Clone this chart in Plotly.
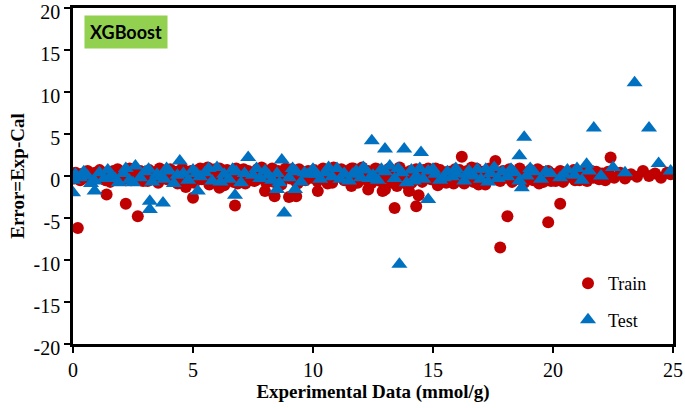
import plotly.graph_objects as go

# ---- Train (red circles) ----
train_x = [
    0.05, 0.15, 0.3, 0.42, 0.55, 0.68, 0.8, 0.92,
    1.05, 1.18, 1.3, 1.42, 1.55, 1.68, 1.8, 1.92,
    2.05, 2.18, 2.3, 2.42, 2.55, 2.68, 2.8, 2.92,
    3.05, 3.18, 3.3, 3.42, 3.55, 3.68, 3.8, 3.92,
    4.05, 4.18, 4.3, 4.42, 4.55, 4.68, 4.8, 4.92,
    5.05, 5.18, 5.3, 5.42, 5.55, 5.68, 5.8, 5.92,
    6.05, 6.18, 6.3, 6.42, 6.55, 6.68, 6.8, 6.92,
    7.05, 7.18, 7.3, 7.42, 7.55, 7.68, 7.8, 7.92,
    8.05, 8.18, 8.3, 8.42, 8.55, 8.68, 8.8, 8.92,
    9.05, 9.18, 9.3, 9.42, 9.55, 9.68, 9.8, 9.92,
    10.05, 10.18, 10.3, 10.42, 10.55, 10.68, 10.8, 10.92,
    11.05, 11.18, 11.3, 11.42, 11.55, 11.68, 11.8, 11.92,
    12.05, 12.18, 12.3, 12.42, 12.55, 12.68, 12.8, 12.92,
    13.05, 13.18, 13.3, 13.42, 13.55, 13.68, 13.8, 13.92,
    14.05, 14.18, 14.3, 14.42, 14.55, 14.68, 14.8, 14.92,
    15.05, 15.18, 15.3, 15.42, 15.55, 15.68, 15.8, 15.92,
    16.05, 16.18, 16.3, 16.42, 16.55, 16.68, 16.8, 16.92,
    17.05, 17.18, 17.3, 17.42, 17.55, 17.68, 17.8, 17.92,
    18.05, 18.18, 18.3, 18.42, 18.55, 18.68, 18.8, 18.92,
    19.05, 19.18, 19.3, 19.42, 19.55, 19.68, 19.8, 19.92,
    20.05, 20.18, 20.3, 20.42, 20.55, 20.68, 20.8, 20.92,
    21.05, 21.18, 21.3, 21.42, 21.55, 21.68, 21.8, 21.92,
    22.05, 22.18, 22.3, 22.55, 22.8,
    23.0, 23.25, 23.5, 23.75,
    24.0, 24.25, 24.5, 24.75, 24.9,
    # second pass through the band
    0.11, 0.36, 0.61, 0.86, 1.11, 1.36, 1.61, 1.86,
    2.11, 2.36, 2.61, 2.86, 3.11, 3.36, 3.61, 3.86,
    4.11, 4.36, 4.61, 4.86, 5.11, 5.36, 5.61, 5.86,
    6.11, 6.36, 6.61, 6.86, 7.11, 7.36, 7.61, 7.86,
    8.11, 8.36, 8.61, 8.86, 9.11, 9.36, 9.61, 9.86,
    10.11, 10.36, 10.61, 10.86, 11.11, 11.36, 11.61, 11.86,
    12.11, 12.36, 12.61, 12.86, 13.11, 13.36, 13.61, 13.86,
    14.11, 14.36, 14.61, 14.86, 15.11, 15.36, 15.61, 15.86,
    16.11, 16.36, 16.61, 16.86, 17.11, 17.36, 17.61, 17.86,
    18.11, 18.36, 18.61, 18.86, 19.11, 19.36, 19.61, 19.86,
    20.11, 20.36, 20.61, 20.86, 21.11, 21.36, 21.61, 21.86,
    # outliers
    0.2, 1.4, 2.2, 2.7, 4.7, 5.0, 6.1, 6.75, 8.0, 8.4, 9.0, 9.3, 10.2,
    12.3, 12.9, 13.0, 13.5, 13.4, 14.0, 14.4, 14.3, 16.2, 17.6, 17.8,
    18.1, 19.8, 20.3, 22.4, 16.9, 11.6, 15.2,
]
train_y = [
    -0.3, 0.2, -0.5, 0.3, -0.2, 0.1, -0.6, 0.4,
    -0.1, 0.5, -0.4, 0.2, -0.7, 0.6, 0.0, -0.3,
    0.5, -0.2, 0.7, -0.5, 0.3, -0.1, 0.6, -0.6,
    0.2, 0.7, -0.3, 0.4, -0.8, 0.1, 0.6, -0.4,
    0.8, 0.0, 0.5, -0.6, 0.9, 0.2, -0.3, 0.6,
    -0.8, 0.4, 0.9, -0.2, 0.6, -1.0, 0.3, 0.8,
    -0.5, 0.5, -1.1, 0.7, 0.1, -0.7, 0.9, -0.3,
    0.4, -0.9, 0.6, 0.0, -0.6, 0.8, -0.2, 0.5,
    -0.8, 0.3, 0.9, -0.4, 0.6, -1.0, 0.2, 0.7,
    -0.3, 0.5, -0.7, 0.8, 0.1, -0.5, 0.6, -0.2,
    0.7, -0.6, 0.3, 0.9, -0.3, 0.5, -0.8, 0.4,
    0.0, 0.8, -0.5, 0.6, -0.1, 0.9, -0.7, 0.3,
    1.0, -0.4, 0.6, -0.9, 0.2, 0.8, -0.6, 0.5,
    -0.2, 0.9, -0.8, 0.3, 0.7, -0.5, 0.4, -1.0,
    0.6, -0.3, 0.8, 0.0, -0.7, 0.5, 0.9, -0.4,
    0.3, -0.6, 0.7, 0.1, -0.8, 0.5, -0.2, 0.8,
    -0.5, 0.4, -0.9, 0.6, 0.0, -0.7, 0.9, -0.3,
    0.5, -1.0, 0.2, 0.7, -0.4, 0.3, -0.6, 0.6,
    -0.2, 0.8, -0.7, 0.4, -0.3, 0.6, -0.8, 0.1,
    0.7, -0.5, 0.3, -0.9, 0.5, -0.2, 0.6, -0.6,
    0.2, -0.4, 0.6, -0.7, 0.3, -0.1, 0.5, -0.5,
    0.4, -0.3, 0.6, -0.6, 0.2, -0.2, 0.5, -0.4,
    0.3, -0.5, 0.5, -0.2, 0.4,
    -0.3, 0.2, -0.1, 0.6,
    0.0, 0.3, -0.2, 0.4, 0.2,
    # second pass through the band
    0.4, -0.1, 0.6, -0.4, 0.7, -0.5, 0.3, 0.8,
    -0.4, 0.9, 0.0, 0.5, -0.6, 0.3, 0.9, -0.2,
    0.4, -0.9, 0.7, 0.0, 0.6, -0.4, 1.0, -0.7,
    0.9, -0.2, 0.4, -0.9, 0.8, 0.2, -0.5, 1.0,
    0.5, -0.7, 0.1, 0.9, 0.8, -0.9, 0.4, 0.2,
    -0.2, 0.6, -0.9, 1.0, 0.5, -0.3, 0.9, -0.8,
    0.3, -0.7, 0.9, 0.0, 0.5, -0.6, 1.0, 0.1,
    -0.8, 0.3, 0.7, -0.1, 0.9, -0.3, 0.5, -0.9,
    0.7, -0.2, 1.0, -0.6, -0.7, 0.9, -0.1, 0.4,
    0.5, -0.5, 0.9, -0.3, 0.2, 0.8, -0.7, 0.4,
    -0.6, 0.5, 0.0, 0.7, -0.5, 0.3, 0.6, -0.2,
    # outliers
    -6.2, -2.2, -3.3, -4.8, -1.3, -2.6, -1.4, -3.5, -1.8, -2.4, -2.5, -2.4, -1.8,
    -1.6, -1.8, -1.6, -1.2, -3.8, -1.8, -2.3, -3.6, 2.3, 1.8, -8.5,
    -4.8, -5.5, -3.3, 2.2, -1.0, -1.2, -1.1,
]

# ---- Test (blue triangles) ----
test_x = [
    0.0, 0.1, 0.3, 0.6, 0.9, 1.1, 1.3, 1.6, 1.9, 2.1, 2.35, 2.6, 2.8, 3.0,
    3.3, 3.5, 3.8, 4.0, 4.2, 4.45, 4.6, 4.8, 5.0, 5.3, 5.5, 5.8, 6.0, 6.3,
    6.5, 6.8, 7.0, 7.3, 7.5, 7.8, 8.0, 8.3, 8.5, 8.7, 9.0, 9.3, 9.5, 9.8,
    10.0, 10.3, 10.5, 10.8, 11.0, 11.3, 11.5, 11.8, 12.0, 12.2, 12.5, 12.7,
    13.0, 13.2, 13.4, 13.7, 13.9, 14.1, 14.3, 14.6, 14.8, 15.1, 15.3, 15.6,
    15.8, 16.0, 16.3, 16.5, 16.7, 17.0, 17.2, 17.4, 17.7, 17.9, 18.1, 18.4,
    18.9, 19.2, 19.5, 19.9, 20.3, 20.6, 20.9, 21.2, 21.5, 22.0, 23.0,
    0.45, 0.75, 1.45, 1.75, 2.2, 2.5, 3.15, 3.65, 3.9, 4.35, 5.15, 5.65,
    6.15, 6.65, 7.15, 7.65, 8.15, 8.6, 9.15, 9.65, 10.15, 10.65, 11.15,
    11.65, 12.1, 12.35, 12.85, 13.55, 14.2, 14.45, 15.0, 15.45, 15.95,
    16.4, 16.85, 17.3, 17.55, 18.25, 18.6, 19.05, 19.7, 20.45, 21.0,
    # outliers
    0.0, 0.9, 3.2, 3.2, 3.75, 5.2, 6.75, 8.8, 8.5, 9.25, 12.45, 13.0, 13.8,
    14.5, 14.8, 13.6, 18.6, 18.8, 18.7, 21.7, 23.4, 24.0, 24.4, 24.9, 22.5,
    21.4,
]
test_y = [
    -0.5, 0.2, -0.2, 0.0, -0.6, 0.4, -0.3, 0.1, -0.8, 0.3, -0.5, 1.2, -0.2, 0.5,
    -0.7, 0.2, -0.4, 0.6, -0.9, 1.8, 0.3, -0.5, 0.7, -0.1, 0.4, -0.6, 1.0, 0.2,
    -0.4, 0.5, -0.8, 2.2, 0.1, -0.3, 0.6, -0.5, 0.3, 1.9, -0.2, 0.5, -0.7, 0.2,
    0.8, -0.4, 0.4, -0.1, 0.9, 0.3, -0.6, 0.6, -0.2, 0.7, 0.1, -0.5,
    0.5, 1.2, -0.3, 0.4, -0.8, 0.7, 0.0, -0.4, 0.6, 0.2, -0.5, 0.5,
    -0.1, 0.3, -0.6, 0.6, 0.0, -0.4, 0.8, 0.3, -0.3, 0.5, -0.1, 0.4,
    0.0, 0.5, -0.4, 0.3, -0.2, 0.7, 0.1, -0.5, 0.6, 0.0, 0.4,
    0.5, -0.9, 0.7, -0.3, 0.9, -0.8, 0.8, -0.1, 0.9, 0.1, 0.3, 0.9,
    -0.7, 0.8, 0.3, 0.9, 0.1, -0.8, 0.9, 0.4, 0.2, 1.0, -0.4,
    0.2, 1.0, -0.3, 0.8, 0.9, -0.6, 0.9, 0.8, -0.2, 0.9,
    0.2, 0.8, -0.7, 1.0, 0.8, -0.6, 0.9, 0.5, 0.2, 0.9,
    # outliers
    -2.0, -1.8, -4.0, -3.0, -3.2, -1.8, -2.3, -4.4, -1.6, -1.6, 4.2, 3.2, 3.2,
    2.8, -2.8, -10.5, 2.4, 4.6, -1.4, 5.7, 11.1, 5.7, 1.5, 0.6, 1.0,
    1.4,
]

x_ticks = [0, 5, 10, 15, 20, 25]
x_labels = ["0", "5", "10", "15", "20", "25"]
y_ticks = [-20, -15, -10, -5, 0, 5, 10, 15, 20]
y_labels = ["-20", "-15", "-10", "-5", "0", "5", "10", "15", "20"]

serif = "Liberation Serif"

fig = go.Figure()
fig.add_trace(go.Scatter(
    x=train_x, y=train_y, mode="markers", name="Train", legendgroup="a",
    marker=dict(symbol="circle", size=12, color="#C00000"),
))
fig.add_trace(go.Scatter(
    x=test_x, y=test_y, mode="markers", name="Test", legendgroup="b",
    marker=dict(symbol="triangle-up", size=14, color="#0070C0"),
))


def axis_style():
    return dict(
        showgrid=False, zeroline=False, showline=True, linecolor="black",
        linewidth=2.5, mirror=True, ticks="outside", ticklen=6, tickwidth=2,
        tickcolor="black", automargin=False, ticklabeloverflow="allow",
        tickfont=dict(family=serif, size=20, color="black"),
    )


fig.update_layout(
    width=685, height=408,
    margin=dict(l=73, r=12, t=8, b=64, autoexpand=False),
    paper_bgcolor="white", plot_bgcolor="white",
    font=dict(family=serif, color="black"),
    xaxis=dict(range=[0, 25], tickvals=x_ticks, ticktext=x_labels,
               title=dict(text="<b>Experimental Data (mmol/g)</b>",
                          font=dict(family=serif, size=19, color="black"),
                          standoff=4),
               **axis_style()),
    yaxis=dict(range=[-20, 20], tickvals=y_ticks, ticktext=y_labels,
               ticklabelshift=4,
               title=dict(text="<b>Error=Exp-Cal</b>",
                          font=dict(family=serif, size=19, color="black"),
                          standoff=4),
               **axis_style()),
    legend=dict(x=0.825, y=0.235, xanchor="left", yanchor="top",
                font=dict(family=serif, size=18, color="black"),
                bgcolor="rgba(0,0,0,0)", tracegroupgap=10,
                itemwidth=30),
    annotations=[dict(
        x=0.018, y=0.98, xref="paper", yref="paper", xanchor="left", yanchor="top",
        text="<b>XGBoost</b>", showarrow=False,
        font=dict(family="Lato", size=18, color="black"),
        bgcolor="#92D050", borderpad=5,
    )],
)

fig.write_html("out.html", config={"displayModeBar": False},
               post_script="document.body.style.margin='0px';")
